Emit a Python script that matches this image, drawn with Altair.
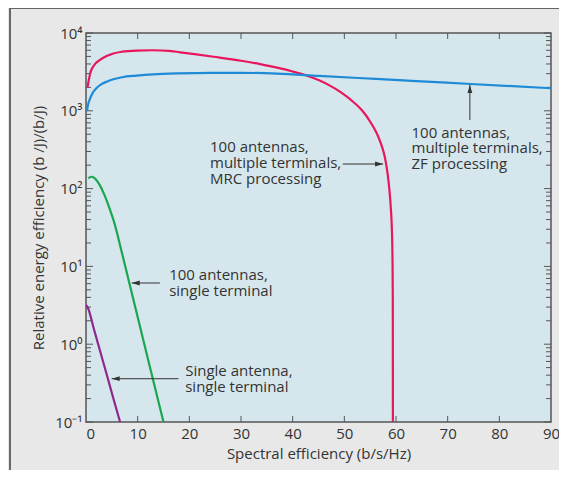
import altair as alt
import pandas as pd

# ---------------- data ----------------
# 100 antennas, multiple terminals, MRC processing (pink)
mrc_x = [0.3, 0.5, 0.8, 1.5, 2.7, 4, 5.3, 7, 9.8, 13, 16, 18.2, 21, 24.7, 30, 33.7,
         37.6, 40, 42.8, 45, 47.3, 49.5, 51.8, 53.5, 55.1, 56.2, 57, 57.6, 58.0,
         58.4, 58.7, 59.0, 59.2, 59.32, 59.38, 59.4]
mrc_y = [2000, 2400, 3000, 3800, 4500, 5050, 5450, 5750, 5950, 6000, 5900, 5650, 5350,
         4950, 4400, 3980, 3510, 3200, 2820, 2480, 2090, 1700, 1290, 1000, 708, 525,
         394, 295, 224, 151, 100, 56, 30, 12.6, 4, 0.1]
# 100 antennas, multiple terminals, ZF processing (blue)
zf_x = [0.2, 0.4, 0.8, 1.3, 2, 3, 4, 5.3, 7, 9.8, 13, 18, 24, 30, 37, 45, 57, 63, 74.5, 90]
zf_y = [1000, 1200, 1440, 1700, 1950, 2200, 2370, 2540, 2700, 2830, 2940, 3030, 3080,
        3080, 3000, 2810, 2550, 2430, 2210, 1950]
# 100 antennas, single terminal (green)
st_x = [0.45, 1.0, 1.6, 2.2, 2.7, 3.5, 4.5, 5.5, 7.0, 8.5, 10.0, 12.5, 15.0]
st_y = [135, 142, 137, 124, 110, 85, 57, 36, 14.5, 5.7, 2.24, 0.47, 0.1]
# Single antenna, single terminal (purple)
sa_x = [0, 0.4, 1.5, 2.7, 4, 5.3, 6.6]
sa_y = [3.2, 2.9, 1.59, 0.83, 0.41, 0.2, 0.1]

series_names = ["mrc", "zf", "single_terminal", "single_antenna"]
series_colors = ["#e8175d", "#1f8ad6", "#1aa64f", "#8e278f"]

x_ticks = [0, 10, 20, 30, 40, 50, 60, 70, 80, 90]
y_ticks = [0.1, 1, 10, 100, 1000, 10000]
y_tick_labels = ["10⁻¹", "10⁰", "10¹", "10²", "10³", "10⁴"]
y_minor = [m * 10.0 ** k for k in range(-1, 4) for m in range(2, 10)]

# annotation text, one entry per printed line
ann_text = ["100 antennas,", "multiple terminals,", "ZF processing",
            "100 antennas,", "multiple terminals,", "MRC processing",
            "100 antennas,", "single terminal",
            "Single antenna,", "single terminal"]
ann_x = [63.0, 63.0, 63.0,
         24.0, 24.0, 24.0,
         16.1, 16.1,
         19.2, 19.2]
ann_y = [519, 333, 207,
         346, 211, 133,
         7.75, 4.83,
         0.456, 0.284]

arrow_x1 = [74.3, 49.7, 14.3, 17.9]
arrow_y1 = [762, 207, 6.12, 0.36]
arrow_x2 = [74.3, 57.5, 8.85, 4.97]
arrow_y2 = [2150, 207, 6.12, 0.36]
arrow_dir = ["up", "right", "left", "left"]

# ---------------- build tables ----------------
rows = []
for name, xs_, ys_ in zip(series_names, [mrc_x, zf_x, st_x, sa_x], [mrc_y, zf_y, st_y, sa_y]):
    for i, (a, b) in enumerate(zip(xs_, ys_)):
        rows.append({"series": name, "se": a, "ee": b, "ord": i})
curves = pd.DataFrame(rows)

head_paths = {"up": "M0,0L-0.3,1L0.3,1Z",
              "right": "M0,0L-1,-0.3L-1,0.3Z",
              "left": "M0,0L1,-0.3L1,0.3Z"}
arrows = pd.DataFrame({"x1": arrow_x1, "y1": arrow_y1, "x2": arrow_x2, "y2": arrow_y2,
                       "shape": [head_paths[d] for d in arrow_dir]})
ann = pd.DataFrame({"x": ann_x, "y": ann_y, "text": ann_text})

W, H = 465, 389
FONT = "Open Sans"
TXT = "#333333"
TICK = "#555555"

xsc = alt.Scale(domain=[0, 90], nice=False, zero=False)
ysc = alt.Scale(type="log", domain=[0.1, 10000], nice=False)

label_expr = "[" + ",".join("'%s'" % s for s in y_tick_labels) + "][round(log(datum.value)/LN10)+1]"

x_axis = alt.Axis(values=x_ticks, title="Spectral efficiency (b/s/Hz)", ticks=False,
                  domain=False, grid=False, labelPadding=4, titlePadding=5,
                  labelAlign={"condition": {"test": "datum.value == 0", "value": "left"},
                              "value": "center"})
y_axis = alt.Axis(values=y_ticks, labelExpr=label_expr,
                  title="Relative energy efficiency (b /J)/(b/J)", ticks=False,
                  domain=False, grid=False, labelPadding=4, titlePadding=8)

lines = alt.Chart(curves).mark_line(strokeWidth=2.2, clip=True, interpolate="monotone").encode(
    x=alt.X("se:Q", scale=xsc, axis=x_axis),
    y=alt.Y("ee:Q", scale=ysc, axis=y_axis),
    color=alt.Color("series:N", scale=alt.Scale(domain=series_names, range=series_colors),
                    legend=None),
    order="ord:Q",
)

ymaj = pd.DataFrame({"v": y_ticks})
ymin = pd.DataFrame({"v": y_minor})
xmaj = pd.DataFrame({"v": x_ticks[1:-1]})

def yrule(df, xa, xb):
    return alt.Chart(df).mark_rule(color=TICK, strokeWidth=1).encode(
        y=alt.Y("v:Q", scale=ysc), x=alt.value(xa), x2=alt.value(xb))

def xrule(df, ya, yb):
    return alt.Chart(df).mark_rule(color=TICK, strokeWidth=1).encode(
        x=alt.X("v:Q", scale=xsc), y=alt.value(ya), y2=alt.value(yb))

ticks = [yrule(ymaj, 0, 7), yrule(ymin, 0, 5), yrule(ymaj, W, W - 7), yrule(ymin, W, W - 5),
         xrule(xmaj, H, H - 6), xrule(xmaj, 0, 6)]

shafts = alt.Chart(arrows).mark_rule(color=TXT, strokeWidth=1).encode(
    x=alt.X("x1:Q", scale=xsc), y=alt.Y("y1:Q", scale=ysc), x2="x2:Q", y2="y2:Q")
heads = alt.Chart(arrows).mark_point(filled=True, color=TXT, opacity=1, size=256,
                                     strokeWidth=0).encode(
    x=alt.X("x2:Q", scale=xsc), y=alt.Y("y2:Q", scale=ysc),
    shape=alt.Shape("shape:N", scale=None))

labels = alt.Chart(ann).mark_text(align="left", baseline="middle", font=FONT, fontSize=15,
                                  color=TXT).encode(
    x=alt.X("x:Q", scale=xsc), y=alt.Y("y:Q", scale=ysc), text="text:N")

frame_top = alt.Chart(ymaj).mark_rule(color="#666666", strokeWidth=1, clip=False).encode(
    x=alt.value(-76), x2=alt.value(W + 20), y=alt.value(-24.5))
frame_left = alt.Chart(ymaj).mark_rule(color="#666666", strokeWidth=1, clip=False).encode(
    x=alt.value(-76), y=alt.value(-25), y2=alt.value(H + 60))

chart = alt.layer(frame_top, frame_left, *ticks, lines, shafts, heads, labels).properties(
    width=W, height=H,
    padding={"left": 78, "top": 25, "right": 8, "bottom": 48},
    autosize=alt.AutoSizeParams(type="none"),
    background="#e8e8e8",
).configure_view(
    fill="#d5e7ec", stroke="#555555", strokeWidth=1.5
).configure_axis(
    labelFont=FONT, titleFont=FONT, labelFontSize=15, titleFontSize=15,
    labelColor=TXT, titleColor=TXT, titleFontWeight="normal"
)

chart.save("out.html", embed_options={"renderer": "svg", "actions": False})
